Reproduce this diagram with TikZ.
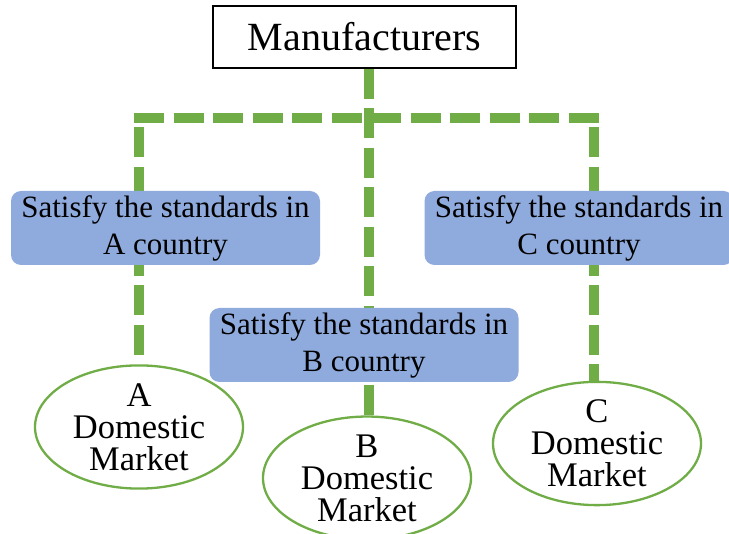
\documentclass[tikz,border=0pt]{standalone}
\usepackage{fontspec}
\setmainfont{Liberation Serif}
\usetikzlibrary{shapes.geometric,backgrounds}

\definecolor{linkgreen}{HTML}{70AD47}
\definecolor{stdblue}{HTML}{8FAADC}

\tikzset{
  maker/.style={draw=black,line width=1.5pt,fill=white,minimum width=303pt,
    minimum height=62pt,font=\fontsize{40}{44}\selectfont},
  standard/.style={fill=stdblue,rounded corners=10pt,minimum width=309pt,
    minimum height=74pt,align=center,inner sep=0pt,font=\fontsize{31}{37}\selectfont},
  market/.style={ellipse,draw=linkgreen,line width=2.3pt,fill=white,inner sep=0pt,
    minimum width=208pt,minimum height=112pt,align=center,font=\fontsize{34.5}{32}\selectfont},
  link/.style={draw=linkgreen,line width=10pt,dash pattern=on 30pt off 9.5pt}
}

\begin{document}
\begin{tikzpicture}[x=1pt,y=-1pt]
  \useasboundingbox (0,0) rectangle (729,534);
  % Manufacturers on top
  \node [maker] (maker) at (364.5,37) {Manufacturers};
  % Standards of each country
  \node [standard] (stdA) at (165.5,228) {Satisfy the standards in\\A country};
  \node [standard] (stdB) at (364,345) {Satisfy the standards in\\B country};
  \node [standard] (stdC) at (579,228) {Satisfy the standards in\\C country};
  % Domestic markets
  \node [market] (mktA) at (139,427) {A\\Domestic\\Market};
  \node [market] (mktB) at (367,478) {B\\Domestic\\Market};
  \node [market] (mktC) at (597,443.5) {C\\Domestic\\Market};
  \coordinate (split) at (369,118);
  \coordinate (splitA) at (139,118);
  \coordinate (splitC) at (594,118);
  % Draw links
  \begin{pgfonlayer}{background}
    \draw [link] (split |- maker.south) -- (split |- mktB.north);
    \draw [link] ([xshift=-5pt]splitA) -- ([xshift=5pt]splitC);
    \draw [link,dash phase=30pt] (splitA) -- (splitA |- mktA.north);
    \draw [link,dash phase=30pt] (splitC) -- (splitC |- mktC.north);
  \end{pgfonlayer}
\end{tikzpicture}
\end{document}
